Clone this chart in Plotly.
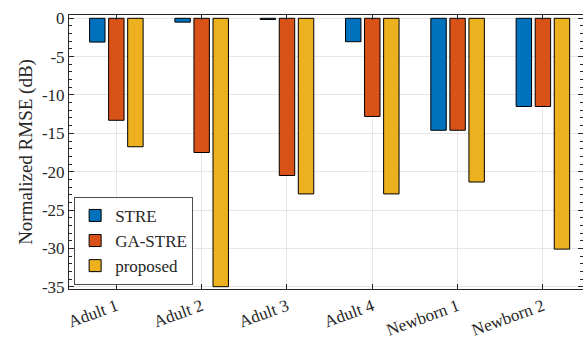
import plotly.graph_objects as go

categories = ["Adult 1", "Adult 2", "Adult 3", "Adult 4", "Newborn 1", "Newborn 2"]
stre = [-3.1, -0.5, -0.15, -3.05, -14.6, -11.5]
ga_stre = [-13.3, -17.5, -20.5, -12.8, -14.6, -11.5]
proposed = [-16.75, -35.0, -22.9, -22.9, -21.35, -30.1]

series = [("STRE", stre, "#0072BD"), ("GA-STRE", ga_stre, "#D95319"), ("proposed", proposed, "#EDB120")]

fig = go.Figure()
for name, vals, col in series:
    fig.add_trace(go.Bar(x=list(range(len(categories))), y=vals, name=name,
                         marker=dict(color=col, line=dict(color="black", width=1))))

font = "Liberation Serif"
axcol = "#262626"
fig.update_layout(
    width=583, height=340,
    margin=dict(l=69, r=0, t=15, b=51, autoexpand=False),
    plot_bgcolor="white", paper_bgcolor="white",
    barmode="group", bargap=0.33, bargroupgap=0.19,
    font=dict(family=font, size=16, color=axcol),
    showlegend=True,
    legend=dict(x=0.01, y=0.015, xanchor="left", yanchor="bottom",
                bgcolor="white", bordercolor="#4d4d4d", borderwidth=1,
                font=dict(family=font, size=17, color=axcol), tracegroupgap=0,
                itemwidth=30),
)
fig.update_xaxes(
    range=[-0.555, 5.47], tickmode="array", tickvals=list(range(len(categories))),
    ticktext=categories, tickangle=-20, showgrid=True, gridcolor="#e6e6e6",
    showline=True, linecolor=axcol, linewidth=1, mirror="ticks", automargin=False,
    ticks="inside", ticklen=5, tickcolor=axcol, tickfont=dict(family=font, size=17, color=axcol),
    zeroline=False,
)
fig.update_yaxes(
    range=[-35.3, 0.43], tickmode="array", tickvals=[0, -5, -10, -15, -20, -25, -30, -35],
    ticktext=["0", "-5", "-10", "-15", "-20", "-25", "-30", "-35"],
    showgrid=True, gridcolor="#e6e6e6", showline=True, linecolor=axcol, linewidth=1,
    mirror="ticks", ticks="inside", ticklen=5, tickcolor=axcol, zeroline=False, automargin=False,
    minor=dict(ticks="inside", ticklen=3, dtick=1, tick0=0, tickcolor=axcol, showgrid=False),
    title=dict(text="Normalized RMSE (dB)", font=dict(family=font, size=19, color=axcol), standoff=4),
    tickfont=dict(family=font, size=17, color=axcol),
)
fig.write_html("out.html", config={"displayModeBar": False},
               post_script="document.body.style.margin='0';document.body.style.padding='0';document.body.style.overflow='hidden';")
